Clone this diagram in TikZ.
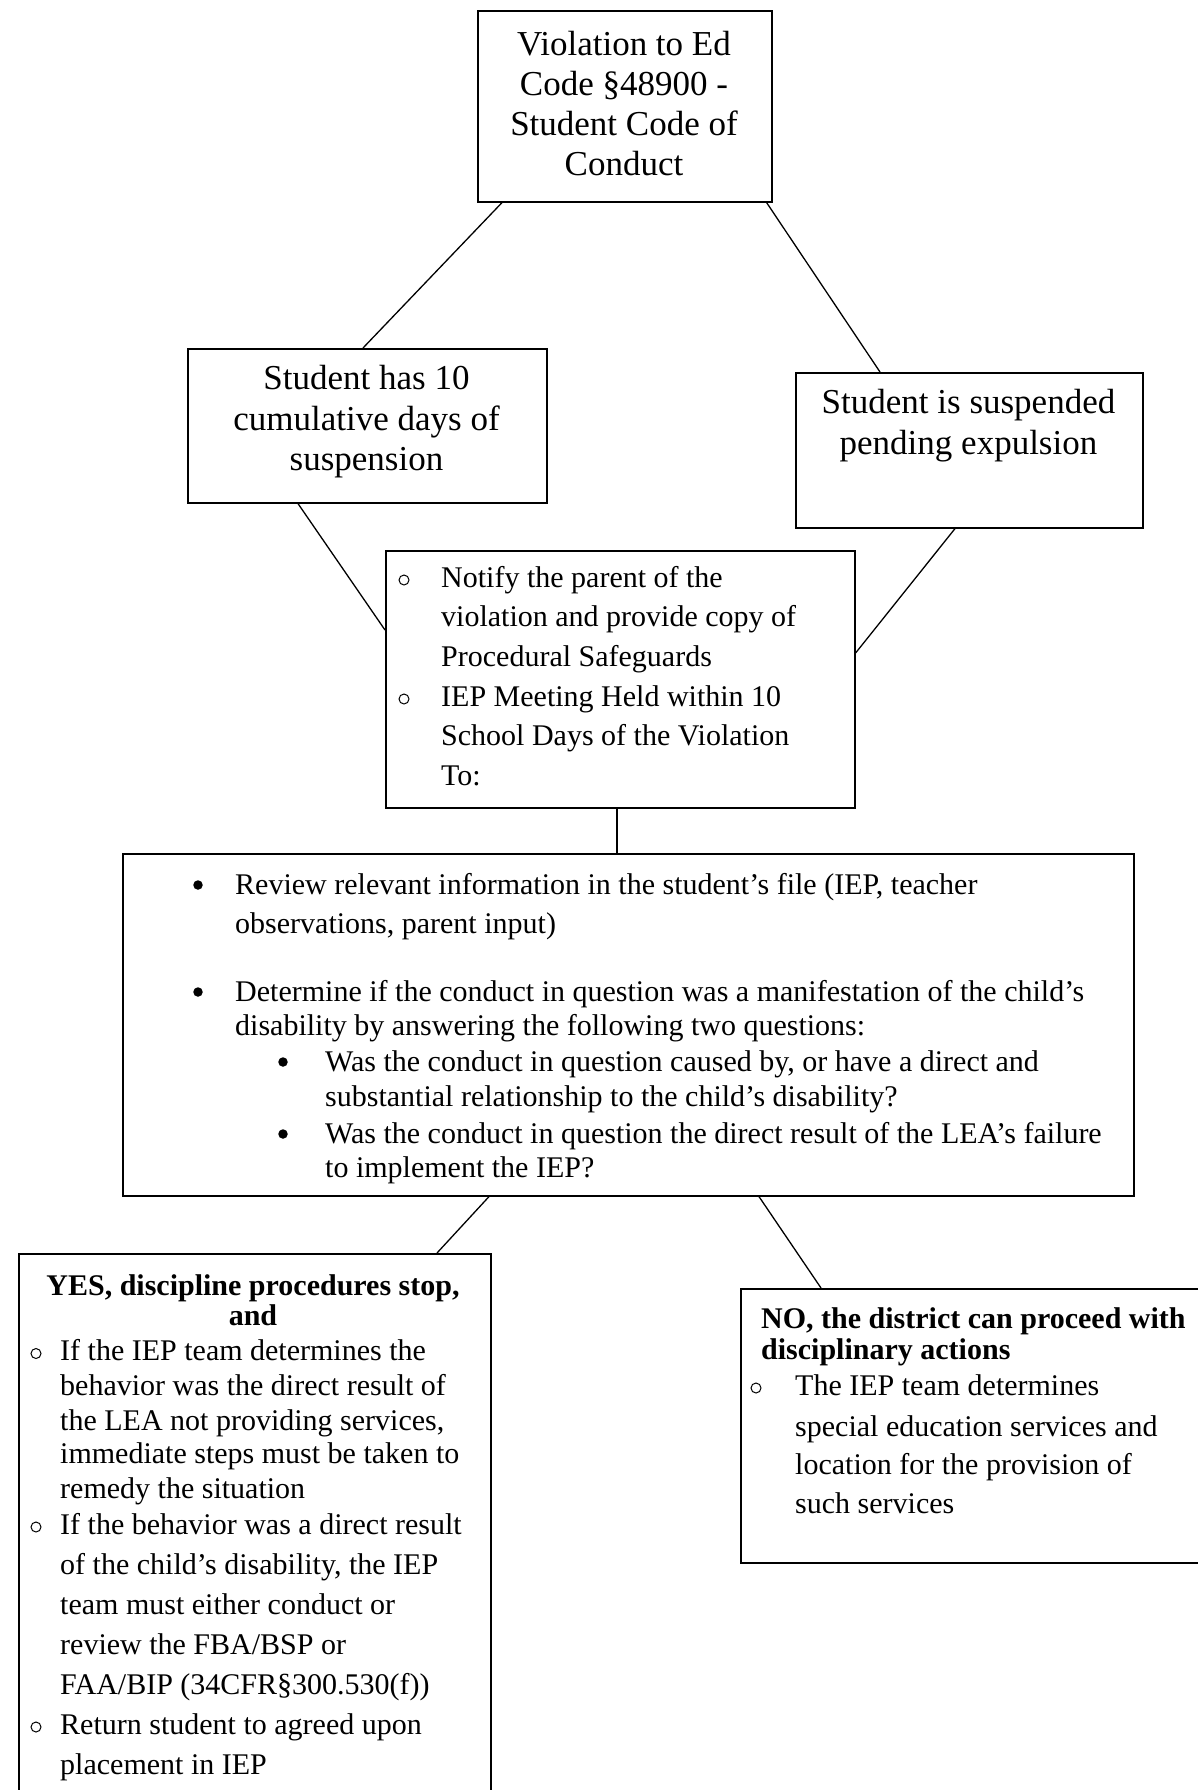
\documentclass[tikz,border=0pt]{standalone}
\usepackage{fontspec}
\setmainfont{Liberation Serif}
\usetikzlibrary{calc}
\begin{document}
\begin{tikzpicture}[x=1pt,y=-1pt,
  box/.style={draw, line width=1.6pt, inner sep=0pt, anchor=north west},
  conn/.style={line width=1.3pt},
  lg/.style={inner sep=0pt, anchor=base, font=\fontsize{35}{40}\selectfont},
  sm/.style={inner sep=0pt, anchor=base west, font=\fontsize{30}{36}\selectfont},
  smb/.style={inner sep=0pt, font=\fontsize{30}{36}\selectfont\bfseries},
  hb/.style={circle, draw, line width=1pt, inner sep=0pt, minimum size=10pt},
  sb/.style={circle, fill, inner sep=0pt, minimum size=9.5pt},
]
\useasboundingbox[fill=white] (0,0) rectangle (1198,1790);

% boxes
\node[box, minimum width=294pt, minimum height=191pt] (top) at (477,10) {};
\node[box, minimum width=359pt, minimum height=154pt] (left) at (187,348) {};
\node[box, minimum width=347pt, minimum height=155pt] (right) at (795,372) {};
\node[box, minimum width=469pt, minimum height=257pt] (mid) at (385,550) {};
\node[box, minimum width=1011pt, minimum height=342pt] (big) at (122,853) {};
\node[box, minimum width=472pt, minimum height=560pt] (yes) at (18,1253) {};
\node[box, minimum width=459pt, minimum height=274pt] (no) at (740,1288) {};

% connectors
\draw[conn] ($(top.south west)+(25,0)$) -- ($(left.north west)+(176,0)$);
\draw[conn] ($(top.south east)+(-6,0)$) -- ($(right.north west)+(85,0)$);
\draw[conn] ($(left.south west)+(111,0)$) -- ($(mid.north west)+(0,80)$);
\draw[conn] ($(right.south west)+(160,0)$) -- ($(mid.north east)+(0,103)$);
\coordinate (mb) at ($(mid.south west)+(232,0)$);
\draw[conn] (mb) -- (mb |- big.north);
\draw[conn] ($(big.south west)+(367,0)$) -- ($(yes.north west)+(419,0)$);
\draw[conn] ($(big.south west)+(637,0)$) -- ($(no.north west)+(81,0)$);

% top box text
\node[lg] (top1) at (624,56) {Violation to Ed};
\node[lg] (top2) at (624,96) {Code §48900 -};
\node[lg] (top3) at (624,136) {Student Code of};
\node[lg] (top4) at (624,176) {Conduct};

% left box text
\node[lg] (left1) at (366.5,389) {Student has 10};
\node[lg] (left2) at (366.5,430) {cumulative days of};
\node[lg] (left3) at (366.5,470) {suspension};

% right box text
\node[lg] (right1) at (968.5,413.5) {Student is suspended};
\node[lg] (right2) at (968.5,454) {pending expulsion};

% middle box text
\node[hb] (midb1) at (404,580) {};
\node[hb] (midb2) at (404,699) {};
\node[sm] (mid1) at (441,587) {Notify the parent of the};
\node[sm] (mid2) at (441,626) {violation and provide copy of};
\node[sm] (mid3) at (441,666) {Procedural Safeguards};
\node[sm] (mid4) at (441,706) {IEP Meeting Held within 10};
\node[sm] (mid5) at (441,745) {School Days of the Violation};
\node[sm] (mid6) at (441,785) {To:};

% big box text
\node[sb] (bigb1) at (198,885) {};
\node[sb] (bigb2) at (198,992) {};
\node[sb] (bigb3) at (283,1062) {};
\node[sb] (bigb4) at (283,1134) {};
\node[sm] (big1) at (235,894) {Review relevant information in the student’s file (IEP, teacher};
\node[sm] (big2) at (235,933) {observations, parent input)};
\node[sm] (big3) at (235,1001) {Determine if the conduct in question was a manifestation of the child’s};
\node[sm] (big4) at (235,1035) {disability by answering the following two questions:};
\node[sm] (big5) at (325,1071) {Was the conduct in question caused by, or have a direct and};
\node[sm] (big6) at (325,1106) {substantial relationship to the child’s disability?};
\node[sm] (big7) at (325,1143) {Was the conduct in question the direct result of the LEA’s failure};
\node[sm] (big8) at (325,1177) {to implement the IEP?};

% yes box text
\node[smb, anchor=base] (yesh1) at (253,1295) {YES, discipline procedures stop,};
\node[smb, anchor=base] (yesh2) at (253,1325) {and};
\node[hb] (yesb1) at (36,1353.5) {};
\node[hb] (yesb2) at (36,1527) {};
\node[hb] (yesb3) at (36,1727) {};
\node[sm] (yes1) at (60,1360.5) {If the IEP team determines the};
\node[sm] (yes2) at (60,1395) {behavior was the direct result of};
\node[sm] (yes3) at (60,1430) {the LEA not providing services,};
\node[sm] (yes4) at (60,1463.5) {immediate steps must be taken to};
\node[sm] (yes5) at (60,1498) {remedy the situation};
\node[sm] (yes6) at (60,1534) {If the behavior was a direct result};
\node[sm] (yes7) at (60,1574) {of the child’s disability, the IEP};
\node[sm] (yes8) at (60,1614) {team must either conduct or};
\node[sm] (yes9) at (60,1654) {review the FBA/BSP or};
\node[sm] (yes10) at (60,1694) {FAA/BIP (34CFR§300.530(f))};
\node[sm] (yes11) at (60,1734) {Return student to agreed upon};
\node[sm] (yes12) at (60,1774) {placement in IEP};

% no box text
\node[smb, anchor=base west] (noh1) at (761,1328) {NO, the district can proceed with};
\node[smb, anchor=base west] (noh2) at (761,1359) {disciplinary actions};
\node[hb] (nob1) at (756,1388) {};
\node[sm] (no1) at (795,1395) {The IEP team determines};
\node[sm] (no2) at (795,1436) {special education services and};
\node[sm] (no3) at (795,1474) {location for the provision of};
\node[sm] (no4) at (795,1513) {such services};
\end{tikzpicture}
\end{document}
